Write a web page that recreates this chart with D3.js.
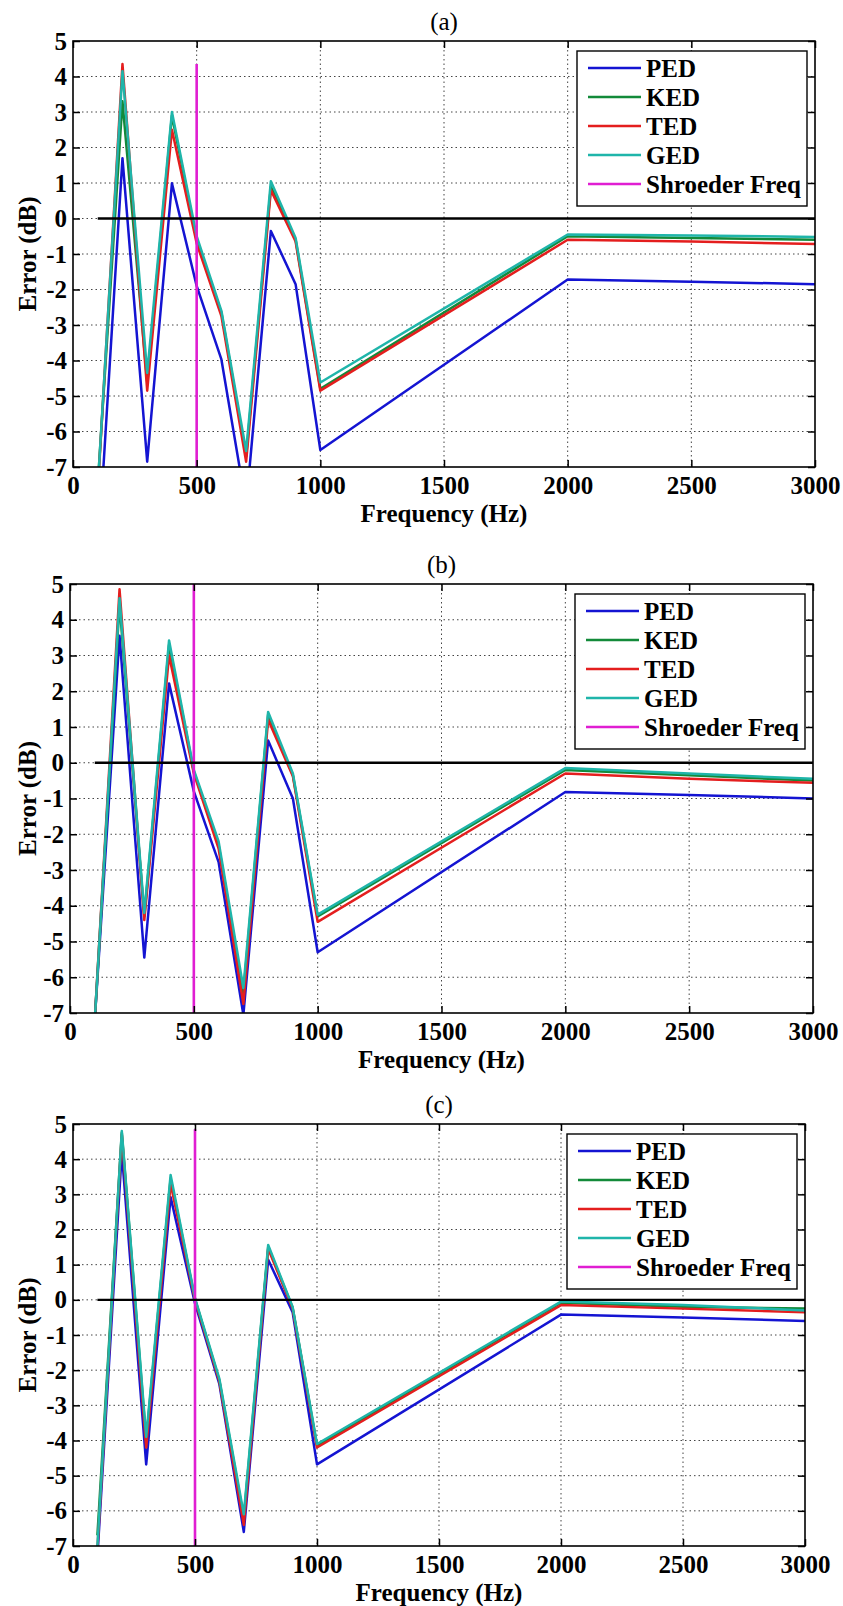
<!DOCTYPE html>
<html>
<head>
<meta charset="utf-8">
<script src="https://cdn.jsdelivr.net/npm/d3@7/dist/d3.min.js"></script>
<style>
  html, body { margin: 0; padding: 0; background: #fff; }
  svg { display: block; }
  text { font-family: "Liberation Serif", "Times New Roman", serif; }
</style>
</head>
<body>
<svg id="chart" width="843" height="1606"></svg>
<script>
// ---------------- data ----------------
const freqs = [100, 200, 300, 400, 500, 600, 700, 800, 900, 1000, 2000, 2500, 3000];
const seriesNames = ["PED", "KED", "TED", "GED"];
const legendLabels = ["PED", "KED", "TED", "GED", "Shroeder Freq"];
const xTicks = [0, 500, 1000, 1500, 2000, 2500, 3000];
const yTicks = [-7, -6, -5, -4, -3, -2, -1, 0, 1, 2, 3, 4, 5];
const panelTitles = ["(a)", "(b)", "(c)"];
const shroederFreq = 500;
const zeroLineFreqs = [100, 3000];

// panel (a)
const pedA = [-9.6, 1.7, -6.85, 0.99, -1.9, -3.97, -8.1, -0.35, -1.85, -6.52, -1.72, -1.78, -1.85];
const kedA = [-7.5, 3.3, -4.6, 2.9, -0.6, -2.65, -6.7, 0.9, -0.6, -4.8, -0.5, -0.55, -0.6];
const tedA = [-7.7, 4.35, -4.85, 2.5, -0.7, -2.75, -6.85, 0.8, -0.65, -4.85, -0.6, -0.65, -0.72];
const gedA = [-7.6, 4.15, -4.35, 3.0, -0.5, -2.6, -6.55, 1.05, -0.55, -4.62, -0.45, -0.48, -0.52];
const shroederTopA = 4.35;

// panel (b)
const pedB = [-7.2, 3.55, -5.45, 2.22, -0.8, -2.78, -7.05, 0.62, -1.0, -5.3, -0.82, -0.9, -1.0];
const kedB = [-7.2, 4.45, -4.3, 3.3, -0.25, -2.3, -6.45, 1.35, -0.35, -4.3, -0.2, -0.35, -0.5];
const tedB = [-7.2, 4.85, -4.4, 3.0, -0.3, -2.4, -6.75, 1.2, -0.38, -4.45, -0.3, -0.45, -0.56];
const gedB = [-7.2, 4.6, -4.2, 3.42, -0.2, -2.2, -6.3, 1.42, -0.3, -4.25, -0.15, -0.3, -0.45];
const shroederTopB = 5.0;

// panel (c)
const pedC = [-7.3, 4.2, -4.68, 2.92, -0.1, -2.4, -6.6, 1.14, -0.35, -4.68, -0.42, -0.5, -0.6];
const kedC = [-6.7, 4.75, -4.0, 3.45, 0.02, -2.3, -6.2, 1.5, -0.22, -4.15, -0.08, -0.2, -0.25];
const tedC = [-7.1, 4.7, -4.2, 3.3, 0.0, -2.32, -6.4, 1.45, -0.25, -4.2, -0.15, -0.25, -0.35];
const gedC = [-7.0, 4.8, -3.9, 3.55, 0.05, -2.25, -6.1, 1.56, -0.2, -4.1, -0.05, -0.15, -0.3];
const shroederTopC = 4.85;

// ---------------- styles ----------------
const colors = { PED: "#1414d2", KED: "#138a3a", TED: "#e41e1e", GED: "#1fb5aa", Shroeder: "#e01ed2" };
const panels = [
  { title: panelTitles[0], left: 73, right: 815, top: 41, bottom: 467, data: [pedA, kedA, tedA, gedA], sTop: shroederTopA },
  { title: panelTitles[1], left: 70, right: 813, top: 584, bottom: 1013, data: [pedB, kedB, tedB, gedB], sTop: shroederTopB },
  { title: panelTitles[2], left: 73, right: 805, top: 1124, bottom: 1546, data: [pedC, kedC, tedC, gedC], sTop: shroederTopC }
];

const svg = d3.select("#chart");

panels.forEach((p, pi) => {
  const w = p.right - p.left, h = p.bottom - p.top;
  const g = svg.append("g").attr("transform", `translate(${p.left},${p.top})`);
  const x = d3.scaleLinear().domain([0, 3000]).range([0, w]);
  const y = d3.scaleLinear().domain([-7, 5]).range([h, 0]);

  // grid
  g.append("g").selectAll("line.gx").data(xTicks.slice(1, -1)).join("line")
    .attr("x1", d => x(d)).attr("x2", d => x(d)).attr("y1", 0).attr("y2", h)
    .attr("stroke", "#444").attr("stroke-width", 1).attr("stroke-dasharray", "1.5,3");
  g.append("g").selectAll("line.gy").data(yTicks.slice(1, -1)).join("line")
    .attr("x1", 0).attr("x2", w).attr("y1", d => y(d)).attr("y2", d => y(d))
    .attr("stroke", "#444").attr("stroke-width", 1).attr("stroke-dasharray", "1.5,3");

  // clip
  const cid = "clip" + pi;
  svg.append("defs").append("clipPath").attr("id", cid)
    .append("rect").attr("x", 0).attr("y", 0).attr("width", w).attr("height", h);
  const plot = g.append("g").attr("clip-path", `url(#${cid})`);

  const line = d3.line().x(d => x(d[0])).y(d => y(d[1]));
  seriesNames.forEach((name, si) => {
    const pts = freqs.map((f, i) => [f, p.data[si][i]]);
    plot.append("path").datum(pts).attr("d", line)
      .attr("fill", "none").attr("stroke", colors[name]).attr("stroke-width", 2.5)
      .attr("stroke-linejoin", "round");
  });
  // Shroeder freq
  plot.append("path").datum([[shroederFreq, -7], [shroederFreq, p.sTop]]).attr("d", line)
    .attr("fill", "none").attr("stroke", colors.Shroeder).attr("stroke-width", 2.6);
  // zero line
  plot.append("path").datum(zeroLineFreqs.map(f => [f, 0])).attr("d", line)
    .attr("fill", "none").attr("stroke", "#000").attr("stroke-width", 2.4);

  // axes (ticks inward on all sides)
  const fmt = d => String(d);
  const bottomAx = g.append("g").attr("transform", `translate(0,${h})`)
    .call(d3.axisBottom(x).tickValues(xTicks).tickFormat(fmt).tickSizeInner(-7).tickSizeOuter(0).tickPadding(9));
  const leftAx = g.append("g")
    .call(d3.axisLeft(y).tickValues(yTicks).tickFormat(fmt).tickSizeInner(-7).tickSizeOuter(0).tickPadding(6));
  const topAx = g.append("g")
    .call(d3.axisTop(x).tickValues(xTicks).tickFormat("").tickSizeInner(-7).tickSizeOuter(0));
  const rightAx = g.append("g").attr("transform", `translate(${w},0)`)
    .call(d3.axisRight(y).tickValues(yTicks).tickFormat("").tickSizeInner(-7).tickSizeOuter(0));
  [bottomAx, leftAx, topAx, rightAx].forEach(ax => {
    ax.select(".domain").remove();
    ax.selectAll(".tick line").attr("stroke", "#000").attr("stroke-width", 1.5);
    ax.selectAll("text").attr("font-size", 25).attr("font-weight", "bold").attr("fill", "#000");
  });

  // frame
  g.append("rect").attr("x", 0).attr("y", 0).attr("width", w).attr("height", h)
    .attr("fill", "none").attr("stroke", "#000").attr("stroke-width", 1.6);

  // title
  g.append("text").attr("x", w / 2).attr("y", -20).attr("dy", "0.35em")
    .attr("text-anchor", "middle").attr("font-size", 25).attr("fill", "#000").text(p.title);
  // axis labels
  g.append("text").attr("x", w / 2).attr("y", h + 46).attr("dy", "0.35em")
    .attr("text-anchor", "middle").attr("font-size", 25).attr("font-weight", "bold").attr("fill", "#000")
    .text("Frequency (Hz)");
  g.append("text").attr("transform", `translate(${27 - p.left},${h / 2}) rotate(-90)`).attr("dy", "0.35em")
    .attr("text-anchor", "middle").attr("font-size", 25).attr("font-weight", "bold").attr("fill", "#000")
    .text("Error (dB)");

  // legend
  const lw = 230, lh = 155;
  const lg = g.append("g").attr("transform", `translate(${w - 8 - lw},10)`);
  lg.append("rect").attr("width", lw).attr("height", lh).attr("fill", "#fff")
    .attr("stroke", "#000").attr("stroke-width", 1.4);
  const legColors = [colors.PED, colors.KED, colors.TED, colors.GED, colors.Shroeder];
  legendLabels.forEach((lab, i) => {
    const ly = 17 + i * 29;
    lg.append("line").attr("x1", 11).attr("x2", 64).attr("y1", ly).attr("y2", ly)
      .attr("stroke", legColors[i]).attr("stroke-width", 2.6);
    lg.append("text").attr("x", 69).attr("y", ly).attr("dy", "0.35em")
      .attr("font-size", 25).attr("font-weight", "bold").attr("fill", "#000").text(lab);
  });
});
</script>
</body>
</html>
